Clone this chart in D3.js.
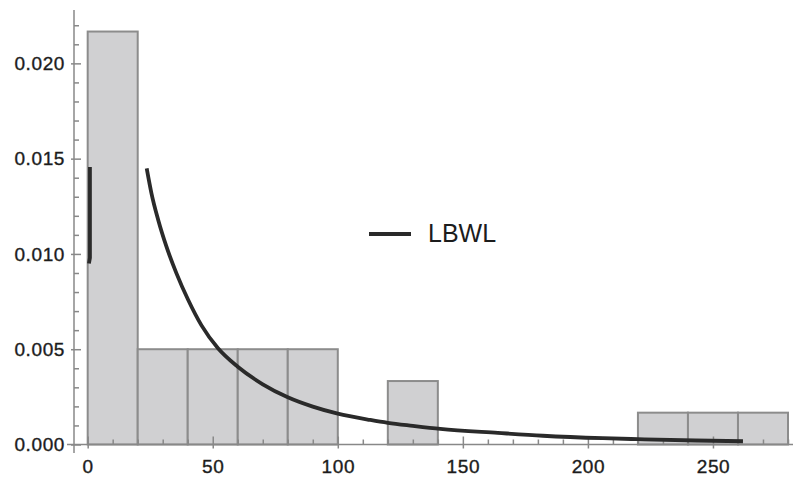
<!DOCTYPE html>
<html>
<head>
  <meta charset="UTF-8">
  <title>LBWL histogram</title>
  <script src="https://d3js.org/d3.v7.min.js"></script>
  <style>
    body { margin:0; background:#fff; }
    svg text { font-family: "Liberation Sans", Arial, sans-serif; fill:#1c1c1c; }
    .tick text { stroke:#1c1c1c; stroke-width:0.35; }
  </style>
</head>
<body>
<div id="chart"></div>
<script>
// histogram bins (width 20) and their densities
const binStarts = [0, 20, 40, 60, 80, 120, 220, 240, 260];
const binDensity = [0.02167, 0.005, 0.005, 0.005, 0.005, 0.00333, 0.00167, 0.00167, 0.00167];
const binWidth = 20;

// fitted LBWL curve
const curveX = [23.6, 25.5, 28.2, 31.5, 35.5, 40.2, 45.5, 52.1, 60, 70, 80, 90, 100, 113, 120, 130, 141, 164, 182, 206, 220, 243, 262];
const curveY = [0.01449, 0.01318, 0.01178, 0.01038, 0.00898, 0.00758, 0.00625, 0.00505, 0.00408, 0.00316, 0.00248, 0.00199, 0.00162, 0.00129, 0.00114, 0.00098, 0.00082, 0.00061, 0.00046, 0.00033, 0.00028, 0.00021, 0.00017];
// short piece near zero
const stubX = [0.9, 0.9, 0.5];
const stubY = [0.01456, 0.0098, 0.0095];

const xMajor = [0, 50, 100, 150, 200, 250];
const xMinor = d3.range(10, 281, 10).filter(v => v % 50 !== 0);
const yMajor = [0, 0.005, 0.010, 0.015, 0.020];
const yMinor = d3.range(1, 23).map(v => v / 1000).filter((v, i) => (i + 1) % 5 !== 0);

const W = 793, H = 481;
const axisCol = '#888';

const svg = d3.select('#chart').append('svg')
  .attr('width', W).attr('height', H);

const x = d3.scaleLinear().domain([-5.47, 282]).range([74, 793]);
const y = d3.scaleLinear().domain([0, 0.0228]).range([444.5, 10]);

// bars
svg.append('g').selectAll('rect')
  .data(binStarts.map((s, i) => ({ s, d: binDensity[i] })))
  .enter().append('rect')
  .attr('x', d => x(d.s))
  .attr('width', d => x(d.s + binWidth) - x(d.s))
  .attr('y', d => y(d.d))
  .attr('height', d => y(0) - y(d.d))
  .attr('fill', '#d0d0d2')
  .attr('stroke', '#8c8c8c')
  .attr('stroke-width', 2);

// axis lines
svg.append('line').attr('x1', 67).attr('x2', W).attr('y1', y(0)).attr('y2', y(0))
  .attr('stroke', axisCol).attr('stroke-width', 1.5);
svg.append('line').attr('x1', x(-5.47)).attr('x2', x(-5.47)).attr('y1', 10).attr('y2', 453)
  .attr('stroke', axisCol).attr('stroke-width', 1.5);

function styleAxis(g){
  g.select('.domain').remove();
  g.selectAll('.tick line').attr('stroke', axisCol).attr('stroke-width', 1.5);
}

// y axis
svg.append('g').attr('transform', `translate(${x(-5.47)},0)`)
  .call(d3.axisLeft(y).tickValues(yMinor).tickSize(-5).tickFormat(''))
  .call(styleAxis);
svg.append('g').attr('transform', `translate(${x(-5.47)},0)`)
  .call(d3.axisLeft(y).tickValues(yMajor).tickSize(-7).tickPadding(9).tickFormat(d3.format('.3f')))
  .call(styleAxis)
  .call(g => g.selectAll('.tick').append('line').attr('x2', -3).attr('stroke', axisCol).attr('stroke-width', 1.5))
  .call(g => g.selectAll('text').attr('font-size', 19).attr('letter-spacing', 0.6));

// x axis
svg.append('g').attr('transform', `translate(0,${y(0)})`)
  .call(d3.axisBottom(x).tickValues(xMinor).tickSize(-5).tickFormat(''))
  .call(styleAxis);
svg.append('g').attr('transform', `translate(0,${y(0)})`)
  .call(d3.axisBottom(x).tickValues(xMajor).tickSize(-8).tickPadding(15).tickFormat(d3.format('d')))
  .call(styleAxis)
  .call(g => g.selectAll('.tick').append('line').attr('y2', 4).attr('stroke', axisCol).attr('stroke-width', 1.5))
  .call(g => g.selectAll('text').attr('font-size', 19).attr('letter-spacing', 0.6));

// curve
const line = d3.line().x(d => x(d[0])).y(d => y(d[1])).curve(d3.curveMonotoneX);
svg.append('path')
  .datum(curveX.map((v, i) => [v, curveY[i]]))
  .attr('d', line)
  .attr('fill', 'none').attr('stroke', '#2a2a2a').attr('stroke-width', 3.8);
svg.append('path')
  .datum(stubX.map((v, i) => [v, stubY[i]]))
  .attr('d', d3.line().x(d => x(d[0])).y(d => y(d[1])))
  .attr('fill', 'none').attr('stroke', '#2a2a2a').attr('stroke-width', 3.8);

// legend
const lg = svg.append('g');
lg.append('line').attr('x1', 369).attr('x2', 411).attr('y1', 234).attr('y2', 234)
  .attr('stroke', '#2a2a2a').attr('stroke-width', 4);
lg.append('text').attr('x', 428).attr('y', 242).attr('font-size', 25).text('LBWL');
</script>
</body>
</html>
